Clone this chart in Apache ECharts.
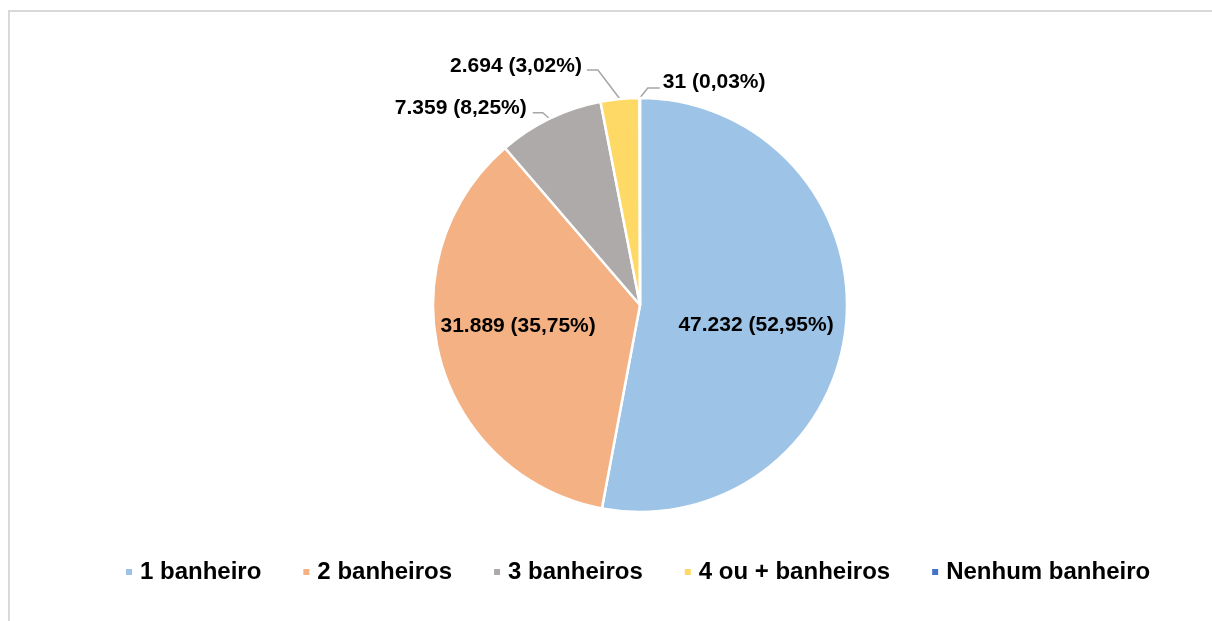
<!DOCTYPE html>
<html>
<head>
<meta charset="utf-8">
<script src="https://cdn.jsdelivr.net/npm/echarts@6/dist/echarts.min.js"></script>
<style>
  html, body { margin: 0; padding: 0; background: #fff; }
  #chart { width: 1212px; height: 621px; }
</style>
</head>
<body>
<div id="chart"></div>
<script>
const categories = ['1 banheiro', '2 banheiros', '3 banheiros', '4 ou + banheiros', 'Nenhum banheiro'];
const values = [47232, 31889, 7359, 2694, 31];
const colors = ['#9DC3E6', '#F4B183', '#AEAAAA', '#FFD966', '#4472C4'];

const total = values.reduce((a, b) => a + b, 0);
function fmtNum(v) { return String(v).replace(/\B(?=(\d{3})+(?!\d))/g, '.'); }
function fmtPct(v) { return (v / total * 100).toFixed(2).replace('.', ','); }

const FONT = "'Liberation Sans', Arial, sans-serif";

const data = categories.map((name, i) => ({
  name: name,
  value: values[i],
  itemStyle: { color: colors[i] },
  label: { position: i < 2 ? 'inside' : 'outside' },
  labelLine: { show: i >= 2 }
}));

const chart = echarts.init(document.getElementById('chart'), null, { renderer: 'canvas' });
chart.setOption({
  animation: false,
  backgroundColor: '#ffffff',
  graphic: [{
    type: 'rect',
    shape: { x: 9, y: 11, width: 1400, height: 800 },
    style: { fill: 'none', stroke: '#d9d9d9', lineWidth: 2 },
    silent: true
  }],
  legend: {
    data: categories,
    left: 119,
    top: 555,
    icon: 'rect',
    itemWidth: 8,
    itemHeight: 8,
    itemGap: 40,
    textStyle: { fontFamily: FONT, fontSize: 24, fontWeight: 'bold', color: '#000', padding: [0, 0, 0, 2] }
  },
  series: [{
    type: 'pie',
    center: [640, 305],
    radius: 207,
    startAngle: 90,
    clockwise: true,
    avoidLabelOverlap: false,
    itemStyle: { borderColor: '#ffffff', borderWidth: 2.5 },
    label: {
      show: true,
      fontFamily: FONT,
      fontSize: 21,
      fontWeight: 'bold',
      color: '#000',
      formatter: p => fmtNum(p.value) + ' (' + fmtPct(p.value) + '%)'
    },
    labelLine: {
      length: 8,
      length2: 10,
      lineStyle: { color: '#a6a6a6', width: 1.5 }
    },
    labelLayout: function (p) {
      const i = p.dataIndex;
      if (i === 0) return { dx: 10, dy: 10 };
      if (i === 1) return { dx: -19, dy: -6 };
      const pts = p.labelLinePoints;
      if (!pts) return {};
      const ex = pts[0][0], ey = pts[0][1];
      if (i === 2) {
        return {
          x: ex - 23, y: ey - 11, align: 'right', verticalAlign: 'middle',
          labelLinePoints: [[ex, ey], [ex - 7, ey - 6], [ex - 17, ey - 6]]
        };
      }
      if (i === 3) {
        return {
          x: ex - 38, y: ey - 33, align: 'right', verticalAlign: 'middle',
          labelLinePoints: [[ex, ey], [ex - 22, ey - 29], [ex - 33, ey - 29]]
        };
      }
      if (i === 4) {
        return {
          x: ex + 23, y: ey - 16, align: 'left', verticalAlign: 'middle',
          labelLinePoints: [[ex, ey], [ex + 8, ey - 10], [ex + 20, ey - 10]]
        };
      }
      return {};
    },
    emphasis: { disabled: true },
    data: data
  }]
});
</script>
</body>
</html>
